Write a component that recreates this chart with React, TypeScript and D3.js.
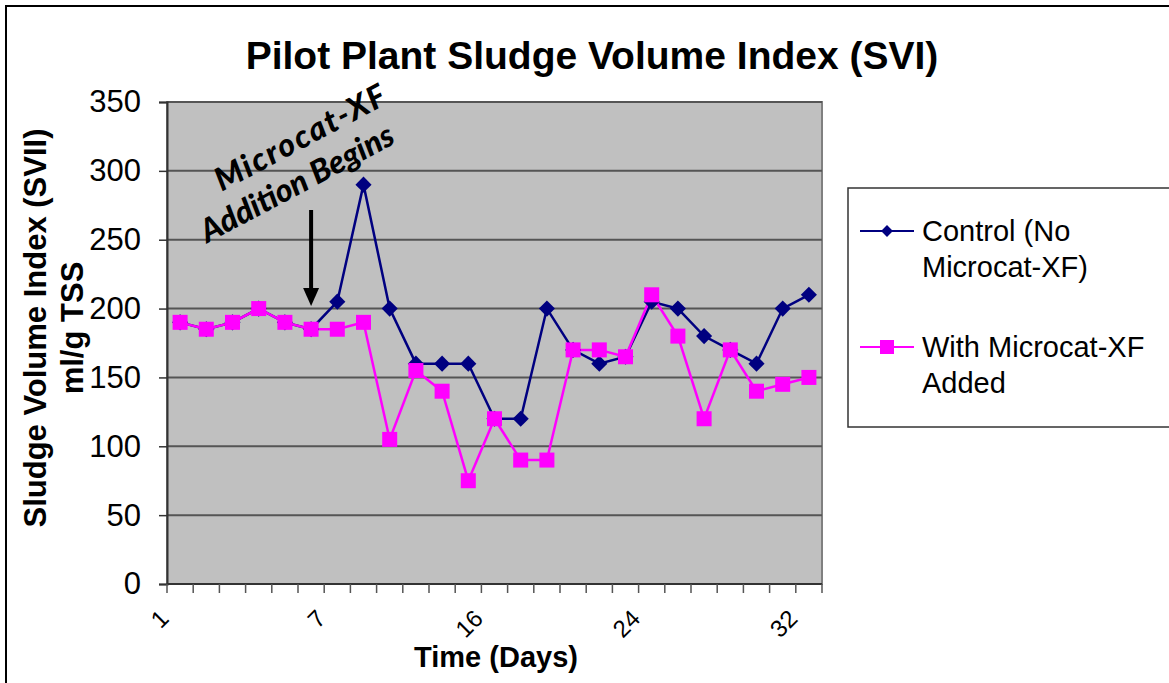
// App.tsx
import React, { useEffect, useRef } from 'react';
import * as d3 from 'd3';

// day labels under the axis (only every 6th sample is labelled)
const categories = [
  '1', '', '', '', '', '', '7', '', '', '', '', '', '16',
  '', '', '', '', '', '24', '', '', '', '', '', '32',
];

const control = [
  190, 185, 190, 200, 190, 185, 205, 290, 200, 160, 160, 160, 120,
  120, 200, 170, 160, 165, 205, 200, 180, 170, 160, 200, 210,
];

const withMicrocat = [
  190, 185, 190, 200, 190, 185, 185, 190, 105, 155, 140, 75, 120,
  90, 90, 170, 170, 165, 210, 180, 120, 170, 140, 145, 150,
];

const yTicks = [0, 50, 100, 150, 200, 250, 300, 350];

const seriesNames = ['Control (No|Microcat-XF)', 'With Microcat-XF|Added'];

const W = 1169;
const H = 683;

const Chart = () => {
  const ref = useRef<SVGSVGElement>(null);

  useEffect(() => {
    const svg = d3.select(ref.current);
    svg.selectAll('*').remove();

    const left = 167, right = 822, top = 102, bottom = 584;

    const x = d3.scaleBand<number>()
      .domain(categories.map((c, i) => i))
      .range([left, right]);

    const y = d3.scaleLinear()
      .domain([0, 350])
      .range([bottom, top]);

    const cx = (i: number) => (x(i) as number) + x.bandwidth() / 2;

    // outer chart border
    svg.append('rect')
      .attr('x', 6).attr('y', 6)
      .attr('width', W).attr('height', H)
      .attr('fill', 'white')
      .attr('stroke', 'black')
      .attr('stroke-width', 2);

    // plot area
    svg.append('rect')
      .attr('x', left).attr('y', top)
      .attr('width', right - left).attr('height', bottom - top)
      .attr('fill', '#c0c0c0')
      .attr('stroke', '#808080')
      .attr('stroke-width', 2);

    // gridlines
    svg.append('g')
      .selectAll('line')
      .data(yTicks.filter(t => t > 0))
      .enter()
      .append('line')
      .attr('x1', left).attr('x2', right)
      .attr('y1', d => y(d)).attr('y2', d => y(d))
      .attr('stroke', '#555')
      .attr('stroke-width', 2);

    // y axis
    const yAxis = d3.axisLeft(y).tickValues(yTicks).tickSize(8).tickPadding(18);
    const ya = svg.append('g')
      .attr('transform', `translate(${left}, 0)`)
      .call(yAxis);
    ya.select('.domain').attr('stroke', '#333').attr('stroke-width', 2);
    ya.selectAll('.tick line').attr('stroke', '#333').attr('stroke-width', 1.5);
    ya.selectAll('.tick text')
      .attr('font-family', 'Liberation Sans, Arial, sans-serif')
      .attr('font-size', 31)
      .attr('fill', 'black');

    // x axis: ticks at category boundaries
    const xa = svg.append('g');
    xa.append('line')
      .attr('x1', left).attr('x2', right)
      .attr('y1', bottom).attr('y2', bottom)
      .attr('stroke', '#333').attr('stroke-width', 2);
    xa.selectAll('.xt')
      .data(categories.map((c, i) => i).concat([categories.length]))
      .enter()
      .append('line')
      .attr('class', 'xt')
      .attr('x1', i => i < categories.length ? (x(i) as number) : right)
      .attr('x2', i => i < categories.length ? (x(i) as number) : right)
      .attr('y1', bottom).attr('y2', bottom + 9)
      .attr('stroke', '#555').attr('stroke-width', 1.5);
    xa.selectAll('.xl')
      .data(categories.map((c, i) => ({ c, i })).filter(d => d.c !== ''))
      .enter()
      .append('text')
      .attr('class', 'xl')
      .attr('transform', d => `translate(${cx(d.i) - 10}, 620) rotate(-45)`)
      .attr('text-anchor', 'end')
      .attr('font-family', 'Liberation Sans, Arial, sans-serif')
      .attr('font-size', 24)
      .text(d => d.c);

    // title + axis titles
    svg.append('text')
      .attr('x', 592).attr('y', 69)
      .attr('text-anchor', 'middle')
      .attr('font-family', 'Liberation Sans, Arial, sans-serif')
      .attr('font-weight', 'bold')
      .attr('font-size', 39)
      .text('Pilot Plant Sludge Volume Index (SVI)');

    svg.append('text')
      .attr('x', 496).attr('y', 667)
      .attr('text-anchor', 'middle')
      .attr('font-family', 'Liberation Sans, Arial, sans-serif')
      .attr('font-weight', 'bold')
      .attr('font-size', 29)
      .text('Time (Days)');

    const yt = svg.append('text')
      .attr('transform', 'translate(0, 328) rotate(-90)')
      .attr('text-anchor', 'middle')
      .attr('font-family', 'Liberation Sans, Arial, sans-serif')
      .attr('font-weight', 'bold')
      .attr('font-size', 31);
    yt.append('tspan').attr('x', 0).attr('y', 46).text('Sludge Volume Index (SVII)');
    yt.append('tspan').attr('x', 0).attr('y', 83).text('ml/g TSS');

    // series
    const line = d3.line<number>()
      .x((d, i) => cx(i))
      .y(d => y(d));

    svg.append('path')
      .datum(control)
      .attr('d', line)
      .attr('fill', 'none')
      .attr('stroke', '#000080')
      .attr('stroke-width', 2.5);

    svg.append('path')
      .datum(withMicrocat)
      .attr('d', line)
      .attr('fill', 'none')
      .attr('stroke', '#ff00ff')
      .attr('stroke-width', 2.5);

    svg.append('g')
      .selectAll('path')
      .data(control)
      .enter()
      .append('path')
      .attr('d', d3.symbol().type(d3.symbolSquare).size(130))
      .attr('transform', (d, i) => `translate(${cx(i)}, ${y(d)}) rotate(45)`)
      .attr('fill', '#000080');

    svg.append('g')
      .selectAll('rect')
      .data(withMicrocat)
      .enter()
      .append('rect')
      .attr('x', (d, i) => cx(i) - 7.5)
      .attr('y', d => y(d) - 7.5)
      .attr('width', 15).attr('height', 15)
      .attr('fill', '#ff00ff');

    // annotation, two lines set at a slant
    const annLines = [
      { text: 'Microcat-XF', x: 306, y: 147, spacing: 2 },
      { text: 'Addition Begins', x: 302, y: 193, spacing: 0 },
    ];
    annLines.forEach(l => {
      svg.append('text')
        .attr('transform', `translate(${l.x}, ${l.y}) rotate(-28)`)
        .attr('text-anchor', 'middle')
        .attr('font-family', 'Lato, sans-serif')
        .attr('font-style', 'italic')
        .attr('font-weight', 900)
        .attr('font-size', 32)
        .attr('letter-spacing', l.spacing)
        .text(l.text);
    });

    const ax = cx(5);
    svg.append('line')
      .attr('x1', ax).attr('x2', ax)
      .attr('y1', 210).attr('y2', 292)
      .attr('stroke', 'black').attr('stroke-width', 4);
    svg.append('path')
      .attr('d', `M${ax - 8},288 L${ax + 8},288 L${ax},306 Z`)
      .attr('fill', 'black');

    // legend
    svg.append('rect')
      .attr('x', 848).attr('y', 188)
      .attr('width', 340).attr('height', 239)
      .attr('fill', 'white')
      .attr('stroke', '#333').attr('stroke-width', 1.5);

    const colors = ['#000080', '#ff00ff'];
    const legendY = [231, 347];
    seriesNames.forEach((name, k) => {
      const g = svg.append('g').attr('transform', `translate(0, ${legendY[k]})`);
      g.append('line')
        .attr('x1', 860).attr('x2', 914)
        .attr('y1', 0).attr('y2', 0)
        .attr('stroke', colors[k]).attr('stroke-width', 2);
      if (k === 0) {
        g.append('path')
          .attr('d', d3.symbol().type(d3.symbolSquare).size(70))
          .attr('transform', 'translate(887, 0) rotate(45)')
          .attr('fill', colors[k]);
      } else {
        g.append('rect')
          .attr('x', 880).attr('y', -7)
          .attr('width', 14).attr('height', 14)
          .attr('fill', colors[k]);
      }
      const t = g.append('text')
        .attr('font-family', 'Liberation Sans, Arial, sans-serif')
        .attr('font-size', 29);
      name.split('|').forEach((part, j) => {
        t.append('tspan').attr('x', 922).attr('y', 10 + j * 36).text(part);
      });
    });
  }, []);

  return (
    <svg ref={ref} width={W} height={H}
      style={{ position: 'absolute', left: 0, top: 0, background: 'white' }} />
  );
};

export default function App() {
  return <Chart />;
}
